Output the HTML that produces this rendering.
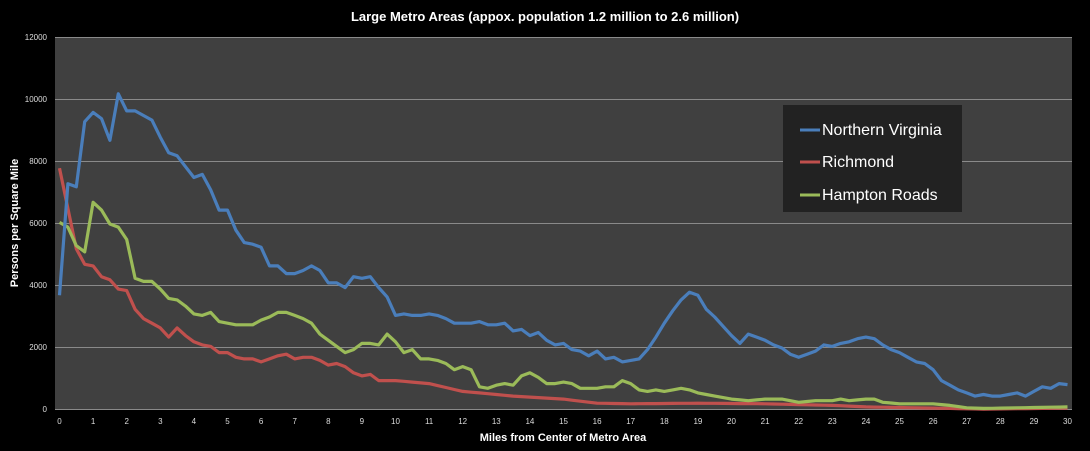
<!DOCTYPE html>
<html><head><meta charset="utf-8"><style>
html,body{margin:0;padding:0;background:#000;}
svg{display:block;font-family:"Liberation Sans",sans-serif;}
</style></head><body>
<svg id="c" width="1090" height="451" xmlns="http://www.w3.org/2000/svg">
<rect width="1090" height="451" fill="#000"/>
<rect x="55" y="37" width="1017" height="373" fill="#404040"/>
<g stroke="#8a8a8a" stroke-width="1">
<line x1="55" y1="37.5" x2="1072" y2="37.5"/>
<line x1="55" y1="99.5" x2="1072" y2="99.5"/>
<line x1="55" y1="161.5" x2="1072" y2="161.5"/>
<line x1="55" y1="223.5" x2="1072" y2="223.5"/>
<line x1="55" y1="285.5" x2="1072" y2="285.5"/>
<line x1="55" y1="347.5" x2="1072" y2="347.5"/>
<line x1="55" y1="409.5" x2="1072" y2="409.5"/>
</g>
<g fill="#ddd" font-size="8" text-anchor="end">
<text x="47" y="40">12000</text><text x="47" y="102">10000</text><text x="47" y="164">8000</text>
<text x="47" y="226">6000</text><text x="47" y="288">4000</text><text x="47" y="350">2000</text><text x="47" y="412">0</text>
</g>
<g id="xt" fill="#ddd" font-size="8" text-anchor="middle"></g>
<g id="lines" fill="none" stroke-width="3.2" stroke-linejoin="round"></g>
<text x="545" y="21" fill="#fff" font-size="13" font-weight="bold" text-anchor="middle">Large Metro Areas (appox. population 1.2 million to 2.6 million)</text>
<text x="563" y="441" fill="#fff" font-size="11" font-weight="bold" text-anchor="middle">Miles from Center of Metro Area</text>
<text transform="translate(18,223) rotate(-90)" fill="#fff" font-size="11" font-weight="bold" text-anchor="middle">Persons per Square Mile</text>
<rect x="783" y="105" width="179" height="107" fill="#222"/>
<line x1="800" y1="130" x2="820" y2="130" stroke="#4a7ebb" stroke-width="3"/>
<line x1="800" y1="162" x2="820" y2="162" stroke="#c0504d" stroke-width="3"/>
<line x1="800" y1="195" x2="820" y2="195" stroke="#9bbb59" stroke-width="3"/>
<g fill="#fff" font-size="16">
<text x="822" y="135">Northern Virginia</text>
<text x="822" y="167">Richmond</text>
<text x="822" y="200">Hampton Roads</text>
</g>
</svg>
<script>
var X0=59.5,XS=33.6,Y0=410,YS=62/2000;
var xt=document.getElementById('xt'),h='';
for(var i=0;i<=30;i++)h+='<text x="'+(X0+i*XS)+'" y="424">'+i+'</text>';
xt.innerHTML=h;
function interp(pts){var out=[];for(var k=0;k<=120;k++){var x=k*0.25;var j=0;while(j<pts.length-2&&pts[j+1][0]<x)j++;var a=pts[j],b=pts[j+1];var t=b[0]==a[0]?0:(x-a[0])/(b[0]-a[0]);t=Math.max(0,Math.min(1,t));out.push([x,a[1]+(b[1]-a[1])*t]);}return out;}
function seq(vals){return vals.map(function(v,i){return [i*0.25,v];});}
var blue=seq([3700,7300,7200,9300,9600,9400,8700,10200,9650,9650,9500,9350,8800,8300,8200,7850,7500,7600,7100,6450,6450,5800,5400,5350,5250,4650,4650,4400,4400,4500,4650,4500,4100,4100,3950,4300,4250,4300,3950,3650,3050,3100,3050,3050,3100,3050,2950,2800,2800,2800,2850,2750,2750,2800,2550,2600,2400,2500,2250,2100,2150,1950,1900,1750,1900,1650,1700,1550,1600,1650,1950,2350,2800,3200,3550,3800,3700,3250,3000,2700,2400,2150,2450,2350,2250,2100,2000,1800,1700,1800,1900,2100,2050,2150,2200,2300,2350,2300,2100,1950,1850,1700,1550,1500,1300,950,800,650,550,450,500,450,450,500,550,450,600,750,700,850,820]);
var red=seq([7800,6500,5200,4700,4650,4300,4200,3900,3850,3250,2950,2800,2650,2350,2650,2400,2200,2100,2050,1850,1850,1700,1650,1650,1550,1650,1750,1800,1650,1700,1700,1600,1450,1500,1400,1200,1100,1150,950,950,950]).concat([[11,850],[12,600],[13.5,450],[15,350],[16,220],[17,200],[19,220],[21,200],[23,150],[24,100],[26,60],[27.5,30],[30,60]]);
var green=seq([6050,5900,5300,5100,6700,6450,6000,5900,5500,4250,4150,4150,3900,3600,3550,3350,3100,3050,3150,2850,2800,2750,2750,2750,2900,3000,3150,3150,3050,2950,2800,2450,2250,2050,1850,1950,2150,2150,2100,2450,2200,1850,1950,1650,1650,1600,1500,1300,1400,1300,750,700,800,850,800,1100,1200,1050,850,850,900,850,700,700,700,750,750,950,850,650,600,650,600,650,700,650,550]).concat([[19.5,450],[20,350],[20.5,300],[21,350],[21.5,350],[22,250],[22.5,300],[23,300],[23.25,350],[23.5,300],[24,350],[24.25,350],[24.5,250],[25,200],[25.5,200],[26,200],[26.5,150],[27,70],[27.5,50],[28,60],[29,80],[30,100]]);
function pl(d,c){return '<polyline stroke="'+c+'" points="'+interp(d).map(function(p){return (X0+p[0]*XS).toFixed(1)+','+(Y0-p[1]*YS).toFixed(1);}).join(' ')+'"/>';}
document.getElementById('lines').innerHTML=pl(red,'#c0504d')+pl(green,'#9bbb59')+pl(blue,'#4a7ebb');
</script>
</body></html>
